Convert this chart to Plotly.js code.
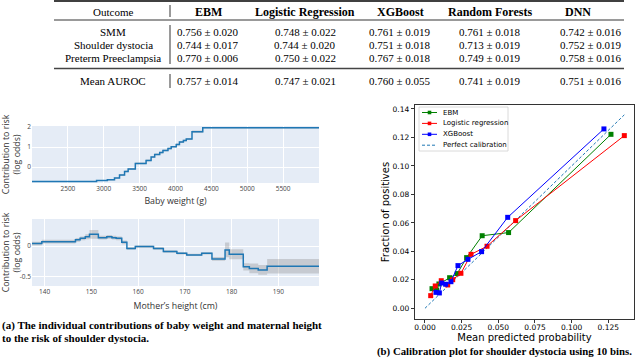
<!DOCTYPE html>
<html>
<head>
<meta charset="utf-8">
<script src="https://cdn.plot.ly/plotly-3.0.1.min.js"></script>
<style>
html, body { margin: 0; padding: 0; background: #fff; }
#fig { width: 640px; height: 361px; }
</style>
</head>
<body>
<div id="fig"></div>
<script>
// AUROC table
var tableHeader = ['Outcome', 'EBM', 'Logistic Regression', 'XGBoost', 'Random Forests', 'DNN'];
var outcomes = ['SMM', 'Shoulder dystocia', 'Preterm Preeclampsia', 'Mean AUROC'];
var aurocEBM = ['0.756 ± 0.020', '0.744 ± 0.017', '0.770 ± 0.006', '0.757 ± 0.014'];
var aurocLR = ['0.748 ± 0.022', '0.744 ± 0.020', '0.750 ± 0.022', '0.747 ± 0.021'];
var aurocXGB = ['0.761 ± 0.019', '0.751 ± 0.018', '0.767 ± 0.018', '0.760 ± 0.055'];
var aurocRF = ['0.761 ± 0.018', '0.713 ± 0.019', '0.749 ± 0.019', '0.741 ± 0.019'];
var aurocDNN = ['0.742 ± 0.016', '0.752 ± 0.019', '0.758 ± 0.016', '0.751 ± 0.016'];

// EBM shape function: baby weight
var weightG = [2000, 2900, 3050, 3150, 3220, 3290, 3340, 3440, 3590, 3660, 3710, 3780, 3825, 3895, 3940, 4010, 4055, 4110, 4150, 4230, 4380, 6000];
var weightLogit = [-0.72, -0.68, -0.64, -0.55, -0.40, -0.22, -0.10, 0.18, 0.33, 0.50, 0.63, 0.72, 0.83, 0.92, 1.01, 1.13, 1.25, 1.33, 1.40, 1.76, 1.96, 1.96];
var weightErr = [0.02, 0.02, 0.03, 0.03, 0.04, 0.04, 0.05, 0.04, 0.04, 0.04, 0.04, 0.04, 0.04, 0.04, 0.04, 0.05, 0.05, 0.05, 0.05, 0.06, 0.03, 0.03];
var weightTicks = [2500, 3000, 3500, 4000, 4500, 5000, 5500];

// EBM shape function: mother's height
var heightCm = [137.3, 139.4, 146.6, 147.6, 148.7, 149.6, 151.5, 153.3, 154.4, 155.3, 156.5, 157.6, 159.4, 163.3, 165.4, 168.3, 170.4, 173.6, 175.8, 178.6, 179.5, 182.5, 183.8, 185.7, 187.6, 198.7];
var heightLogit = [0.04, 0.07, 0.10, 0.125, 0.15, 0.19, 0.135, 0.15, 0.135, 0.125, 0.06, -0.04, -0.01, -0.04, -0.09, -0.12, -0.145, -0.12, -0.21, -0.065, -0.135, -0.34, -0.365, -0.39, -0.33, -0.33];
var heightErr = [0.03, 0.03, 0.03, 0.03, 0.04, 0.07, 0.03, 0.03, 0.03, 0.03, 0.03, 0.02, 0.02, 0.02, 0.02, 0.02, 0.02, 0.02, 0.03, 0.12, 0.08, 0.06, 0.08, 0.08, 0.12, 0.12];
var heightTicks = [140, 150, 160, 170, 180, 190];

// calibration curves
var ebmX = [0.0048, 0.008, 0.0095, 0.0168, 0.022, 0.0284, 0.039, 0.057, 0.1268];
var ebmY = [0.0138, 0.0129, 0.0171, 0.0215, 0.0244, 0.0356, 0.051, 0.0532, 0.1222];
var lrX = [0.0039, 0.007, 0.0111, 0.0155, 0.0189, 0.0245, 0.0314, 0.0423, 0.0618, 0.1359];
var lrY = [0.0089, 0.0157, 0.0194, 0.0164, 0.0201, 0.0246, 0.0379, 0.0436, 0.0616, 0.1213];
var xgbX = [0.0075, 0.0098, 0.0114, 0.0141, 0.0177, 0.0225, 0.0293, 0.0386, 0.0564, 0.122];
var xgbY = [0.0112, 0.0108, 0.0178, 0.0169, 0.0187, 0.030, 0.0344, 0.0398, 0.0639, 0.126];
var perfectX = [0, 0.1359];
var perfectY = [0, 0.1359];
var calibNames = ['EBM', 'Logistic regression', 'XGBoost', 'Perfect calibration'];

var W = 640, H = 361;
function px(x) { return x / W; }
function py(y) { return 1 - y / H; }

var serif = 'Liberation Serif, DejaVu Serif, serif';
var sans = 'Open Sans, sans-serif';
var mpl = 'DejaVu Sans, sans-serif';
var blue = '#1f77b4';
var band = 'rgba(140,140,140,0.35)';

function shapeTraces(x, y, err, xa, ya) {
    var lo = y.map(function (v, i) { return v - err[i]; });
    var hi = y.map(function (v, i) { return v + err[i]; });
    return [
        {x: x, y: lo, xaxis: xa, yaxis: ya, mode: 'lines', line: {shape: 'hv', width: 0}, hoverinfo: 'skip'},
        {x: x, y: hi, xaxis: xa, yaxis: ya, mode: 'lines', line: {shape: 'hv', width: 0}, fill: 'tonexty', fillcolor: band, hoverinfo: 'skip'},
        {x: x, y: y, xaxis: xa, yaxis: ya, mode: 'lines', line: {shape: 'hv', width: 1.5, color: blue}}
    ];
}

var data = [].concat(
    shapeTraces(weightG, weightLogit, weightErr, 'x', 'y'),
    shapeTraces(heightCm, heightLogit, heightErr, 'x2', 'y2'),
    [
        {x: perfectX, y: perfectY, xaxis: 'x3', yaxis: 'y3', mode: 'lines', name: calibNames[3],
         line: {color: blue, width: 1, dash: '3px,2px'}},
        {x: ebmX, y: ebmY, xaxis: 'x3', yaxis: 'y3', mode: 'lines+markers', name: calibNames[0],
         line: {color: 'green', width: 1}, marker: {symbol: 'square', size: 5, color: 'green'}},
        {x: lrX, y: lrY, xaxis: 'x3', yaxis: 'y3', mode: 'lines+markers', name: calibNames[1],
         line: {color: 'red', width: 1}, marker: {symbol: 'square', size: 5, color: 'red'}},
        {x: xgbX, y: xgbY, xaxis: 'x3', yaxis: 'y3', mode: 'lines+markers', name: calibNames[2],
         line: {color: 'blue', width: 1}, marker: {symbol: 'square', size: 5, color: 'blue'}}
    ]
);

var annotations = [];
var shapes = [];

// table
var colX = [113, 208, 305, 400, 490, 578];
var valX = [113, 208, 305, 400, 490, 591];
var rowY = [32, 45, 58, 81];
var cols = [aurocEBM, aurocLR, aurocXGB, aurocRF, aurocDNN];
tableHeader.forEach(function (t, i) {
    annotations.push({text: i === 0 ? t : '<b>' + t + '</b>', x: px(colX[i]), y: py(12),
        xref: 'paper', yref: 'paper', showarrow: false, xanchor: 'center', yanchor: 'middle',
        font: {family: serif, size: i === 0 ? 11 : 12, color: '#000'}});
});
outcomes.forEach(function (o, r) {
    annotations.push({text: o, x: px(valX[0]), y: py(rowY[r]), xref: 'paper', yref: 'paper',
        showarrow: false, xanchor: 'center', yanchor: 'middle', font: {family: serif, size: 11, color: '#000'}});
    cols.forEach(function (c, i) {
        annotations.push({text: c[r], x: px(valX[i + 1]), y: py(rowY[r]), xref: 'paper', yref: 'paper',
            showarrow: false, xanchor: 'center', yanchor: 'middle', font: {family: serif, size: 11, color: '#000'}});
    });
});
function hline(y, w, c) {
    shapes.push({type: 'line', xref: 'paper', yref: 'paper', x0: px(54), x1: px(624), y0: py(y), y1: py(y),
        line: {color: c || '#000', width: w}});
}
hline(1, 1.6);
hline(20, 0.8);
hline(68.5, 1.5, '#444');
[[5, 17], [25, 64], [74, 88]].forEach(function (s) {
    shapes.push({type: 'line', xref: 'paper', yref: 'paper', x0: px(170), x1: px(170), y0: py(s[0]), y1: py(s[1]),
        line: {color: '#000', width: 0.8}});
});

// white background for the calibration axes
shapes.push({type: 'rect', xref: 'x3 domain', yref: 'y3 domain', x0: 0, x1: 1, y0: 0, y1: 1,
    layer: 'below', line: {width: 0}, fillcolor: '#fff'});

// calibration legend
shapes.push({type: 'rect', xref: 'paper', yref: 'paper', x0: px(419), x1: px(508), y0: py(107), y1: py(151),
    line: {color: '#d0d0d0', width: 0.8}, fillcolor: 'rgba(255,255,255,0.9)'});
var legColors = ['green', 'red', 'blue', blue];
var legY = [112.5, 123.4, 134.3, 145.2];
calibNames.forEach(function (n, i) {
    shapes.push({type: 'line', xref: 'paper', yref: 'paper', x0: px(422), x1: px(437), y0: py(legY[i]), y1: py(legY[i]),
        line: {color: legColors[i], width: 1, dash: i === 3 ? '3px,2px' : 'solid'}});
    if (i < 3) {
        shapes.push({type: 'rect', xref: 'paper', yref: 'paper', x0: px(427.7), x1: px(431.3),
            y0: py(legY[i] - 1.8), y1: py(legY[i] + 1.8), line: {width: 0}, fillcolor: legColors[i]});
    }
    annotations.push({text: n, x: px(441), y: py(legY[i]), xref: 'paper', yref: 'paper', showarrow: false,
        xanchor: 'left', yanchor: 'middle', font: {family: mpl, size: 7, color: '#000'}});
});

// captions
annotations.push({text: '<b>(a) The individual contributions of baby weight and maternal height</b>',
    x: 0, y: py(325), xref: 'paper', yref: 'paper', showarrow: false, xanchor: 'left', yanchor: 'middle',
    font: {family: serif, size: 11, color: '#000'}});
annotations.push({text: '<b>to the risk of shoulder dystocia.</b>',
    x: 0, y: py(338), xref: 'paper', yref: 'paper', showarrow: false, xanchor: 'left', yanchor: 'middle',
    font: {family: serif, size: 11, color: '#000'}});
annotations.push({text: '<b>(b) Calibration plot for shoulder dystocia using 10 bins.</b>',
    x: px(375), y: py(351), xref: 'paper', yref: 'paper', showarrow: false, xanchor: 'left', yanchor: 'middle',
    font: {family: serif, size: 10.8, color: '#000'}});

var leftX = {gridcolor: '#fff', zeroline: false, showline: false, ticks: '',
    tickfont: {family: sans, size: 6.5, color: '#444'}};
var leftY = {gridcolor: '#fff', zerolinecolor: '#fff', zerolinewidth: 1, showline: false, ticks: '',
    tickfont: {family: sans, size: 6.5, color: '#444'}};

var layout = {
    width: W, height: H,
    margin: {l: 0, r: 0, t: 0, b: 0},
    paper_bgcolor: '#fff',
    plot_bgcolor: '#e5ecf6',
    showlegend: false,
    font: {family: sans, color: '#333'},
    xaxis: Object.assign({}, leftX, {domain: [px(32), px(319)], anchor: 'y', range: [2000, 6000], tickvals: weightTicks,
        title: {text: 'Baby weight (g)', font: {family: sans, size: 8.8, color: '#333'}, standoff: 6}}),
    yaxis: Object.assign({}, leftY, {domain: [py(183), py(126)], anchor: 'x', range: [-0.8, 2.05], tickvals: [0, 1, 2],
        title: {text: 'Contribution to risk<br>(log odds)', font: {family: sans, size: 8.8, color: '#333'}, standoff: 6}}),
    xaxis2: Object.assign({}, leftX, {domain: [px(32), px(319)], anchor: 'y2', range: [137.3, 198.7], tickvals: heightTicks,
        title: {text: 'Mother\u2019s height (cm)', font: {family: sans, size: 8.8, color: '#333'}, standoff: 8}}),
    yaxis2: Object.assign({}, leftY, {domain: [py(286), py(219)], anchor: 'x2', range: [-0.652, 0.44],
        tickvals: [-0.5, 0], ticktext: ['-0.5', '0'],
        title: {text: 'Contribution to risk<br>(log odds)', font: {family: sans, size: 8.8, color: '#333'}, standoff: 2}}),
    xaxis3: {domain: [px(415), px(634)], anchor: 'y3', range: [-0.0068, 0.1425], tick0: 0, dtick: 0.025, tickformat: '.3f',
        showgrid: false, zeroline: false, showline: true, mirror: true, linecolor: '#000', linewidth: 0.8,
        ticks: 'outside', ticklen: 3.5, tickwidth: 0.8, tickcolor: '#000', ticklabelstandoff: -2,
        tickfont: {family: mpl, size: 7.5, color: '#000'},
        title: {text: 'Mean predicted probability', font: {family: mpl, size: 10, color: '#000'}, standoff: 0}},
    yaxis3: {domain: [py(319), py(105)], anchor: 'x3', range: [-0.0075, 0.1428], tick0: 0, dtick: 0.02, tickformat: '.2f',
        showgrid: false, zeroline: false, showline: true, mirror: true, linecolor: '#000', linewidth: 0.8,
        ticks: 'outside', ticklen: 3.5, tickwidth: 0.8, tickcolor: '#000',
        tickfont: {family: mpl, size: 7.5, color: '#000'},
        title: {text: 'Fraction of positives', font: {family: mpl, size: 10, color: '#000'}, standoff: 0}},
    annotations: annotations,
    shapes: shapes
};

Plotly.newPlot('fig', data, layout, {staticPlot: true});
</script>
</body>
</html>
